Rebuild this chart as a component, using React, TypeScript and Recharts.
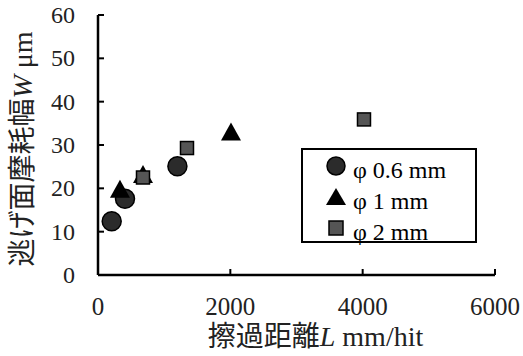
import React from 'react'
import { ScatterChart, Scatter, XAxis, YAxis, Label } from 'recharts'

const xTicks = [0, 2000, 4000, 6000]
const yTicks = [0, 10, 20, 30, 40, 50, 60]

const d06 = [
  { x: 207, y: 12.4 },
  { x: 408, y: 17.6 },
  { x: 1200, y: 25.1 },
]
const d1 = [
  { x: 332, y: 19.7 },
  { x: 680, y: 23.1 },
  { x: 2010, y: 32.9 },
]
const d2 = [
  { x: 680, y: 22.5 },
  { x: 1345, y: 29.3 },
  { x: 4020, y: 35.9 },
]

const legendItems = [
  { label: 'φ 0.6 mm', icon: 'c' },
  { label: 'φ 1 mm', icon: 't' },
  { label: 'φ 2 mm', icon: 's' },
]

const serif = "'Liberation Serif', 'DejaVu Serif', serif"
const cjk = "'Noto Sans CJK JP', 'Liberation Serif', serif"

const Circle = (p: any) => <circle cx={p.cx} cy={p.cy} r={9.5} fill="#2b2b2b" stroke="#000" strokeWidth={1.5} />
const Tri = (p: any) => (
  <polygon
    points={`${p.cx},${p.cy - 10} ${p.cx - 10},${p.cy + 8} ${p.cx + 10},${p.cy + 8}`}
    fill="#000"
  />
)
const Sq = (p: any) => (
  <rect x={p.cx - 6.5} y={p.cy - 6.5} width={13} height={13} fill="#555" stroke="#000" strokeWidth={1.5} />
)

const XTick = (p: any) => (
  <text x={p.x} y={p.y} dy={17} textAnchor="middle" style={{ fontFamily: serif, fontSize: 25, fill: '#222' }}>
    {p.payload.value}
  </text>
)
const YTick = (p: any) => (
  <text x={p.x} y={p.y} dy={8} textAnchor="end" style={{ fontFamily: serif, fontSize: 24, fill: '#222' }}>
    {p.payload.value}
  </text>
)

function LegendBox() {
  return (
    <div
      style={{
        position: 'absolute',
        left: 301,
        top: 148,
        border: '2px solid #000',
        width: 176,
        height: 95,
        boxSizing: 'border-box',
        background: '#fff',
        fontFamily: serif,
        fontSize: 24,
        paddingTop: 4,
        paddingLeft: 22,
      }}
    >
      {legendItems.map((it) => (
        <div key={it.label} style={{ display: 'flex', alignItems: 'flex-start', height: 31, lineHeight: '31px' }}>
          <svg width={22} height={22} style={{ marginTop: 1, flex: 'none' }}>
            {it.icon === 'c' && <circle cx={11} cy={11} r={9} fill="#2b2b2b" stroke="#000" strokeWidth={1.5} />}
            {it.icon === 't' && <polygon points="11,2 1,19 21,19" fill="#000" />}
            {it.icon === 's' && <rect x={4} y={4} width={14} height={14} fill="#555" stroke="#000" strokeWidth={1.5} />}
          </svg>
          <span style={{ marginLeft: 6, marginTop: 1, whiteSpace: 'nowrap' }}>{it.label}</span>
        </div>
      ))}
    </div>
  )
}

const YLabel = (props: any) => {
  const vb = props.viewBox
  const cy = vb.y + vb.height / 2 + 4
  return (
    <text
      x={0}
      y={0}
      transform={`translate(32, ${cy}) rotate(-90)`}
      textAnchor="middle"
      style={{ fontFamily: cjk, fontSize: 28, fill: '#222' }}
    >
      逃げ面摩耗幅
      <tspan style={{ fontFamily: serif, fontStyle: 'italic' }}>W</tspan>
      <tspan style={{ fontFamily: serif }}> μm</tspan>
    </text>
  )
}

const XLabel = (props: any) => {
  const vb = props.viewBox
  const cx = vb.x + vb.width / 2 + 19
  return (
    <text x={cx} y={346} textAnchor="middle" style={{ fontFamily: cjk, fontSize: 28, fill: '#222' }}>
      擦過距離
      <tspan style={{ fontFamily: serif, fontStyle: 'italic' }}>L</tspan>
      <tspan style={{ fontFamily: serif }}> mm/hit</tspan>
    </text>
  )
}

export default function App() {
  const axisStyle = { stroke: '#000', strokeWidth: 2.5 }
  return (
    <div style={{ position: 'absolute', left: 0, top: 0, width: 523, height: 356, background: '#fff' }}>
      <ScatterChart
        width={523}
        height={356}
        margin={{ top: 15, right: 28, bottom: 21, left: 0 }}
        style={{ fontFamily: serif }}
      >
        <XAxis
          type="number"
          dataKey="x"
          domain={[0, 6000]}
          ticks={xTicks}
          interval={0}
          tickSize={-6}
          tickMargin={29}
          height={60}
          axisLine={axisStyle}
          tickLine={{ stroke: '#000', strokeWidth: 2 }}
          tick={XTick}
        >
          <Label content={XLabel} />
        </XAxis>
        <XAxis
          xAxisId="top"
          orientation="top"
          type="number"
          domain={[0, 6000]}
          height={0}
          tick={false}
          tickLine={false}
          axisLine={axisStyle}
        />
        <YAxis
          type="number"
          dataKey="y"
          domain={[0, 60]}
          ticks={yTicks}
          interval={0}
          tickSize={-6}
          tickMargin={29}
          width={98}
          axisLine={axisStyle}
          tickLine={{ stroke: '#000', strokeWidth: 2 }}
          tick={YTick}
        >
          <Label content={YLabel} />
        </YAxis>
        <YAxis
          yAxisId="right"
          orientation="right"
          type="number"
          domain={[0, 60]}
          width={0}
          tick={false}
          tickLine={false}
          axisLine={axisStyle}
        />
        <Scatter name="φ 0.6 mm" data={d06} shape={Circle} isAnimationActive={false} />
        <Scatter name="φ 1 mm" data={d1} shape={Tri} isAnimationActive={false} />
        <Scatter name="φ 2 mm" data={d2} shape={Sq} isAnimationActive={false} />
      </ScatterChart>
      <LegendBox />
    </div>
  )
}
